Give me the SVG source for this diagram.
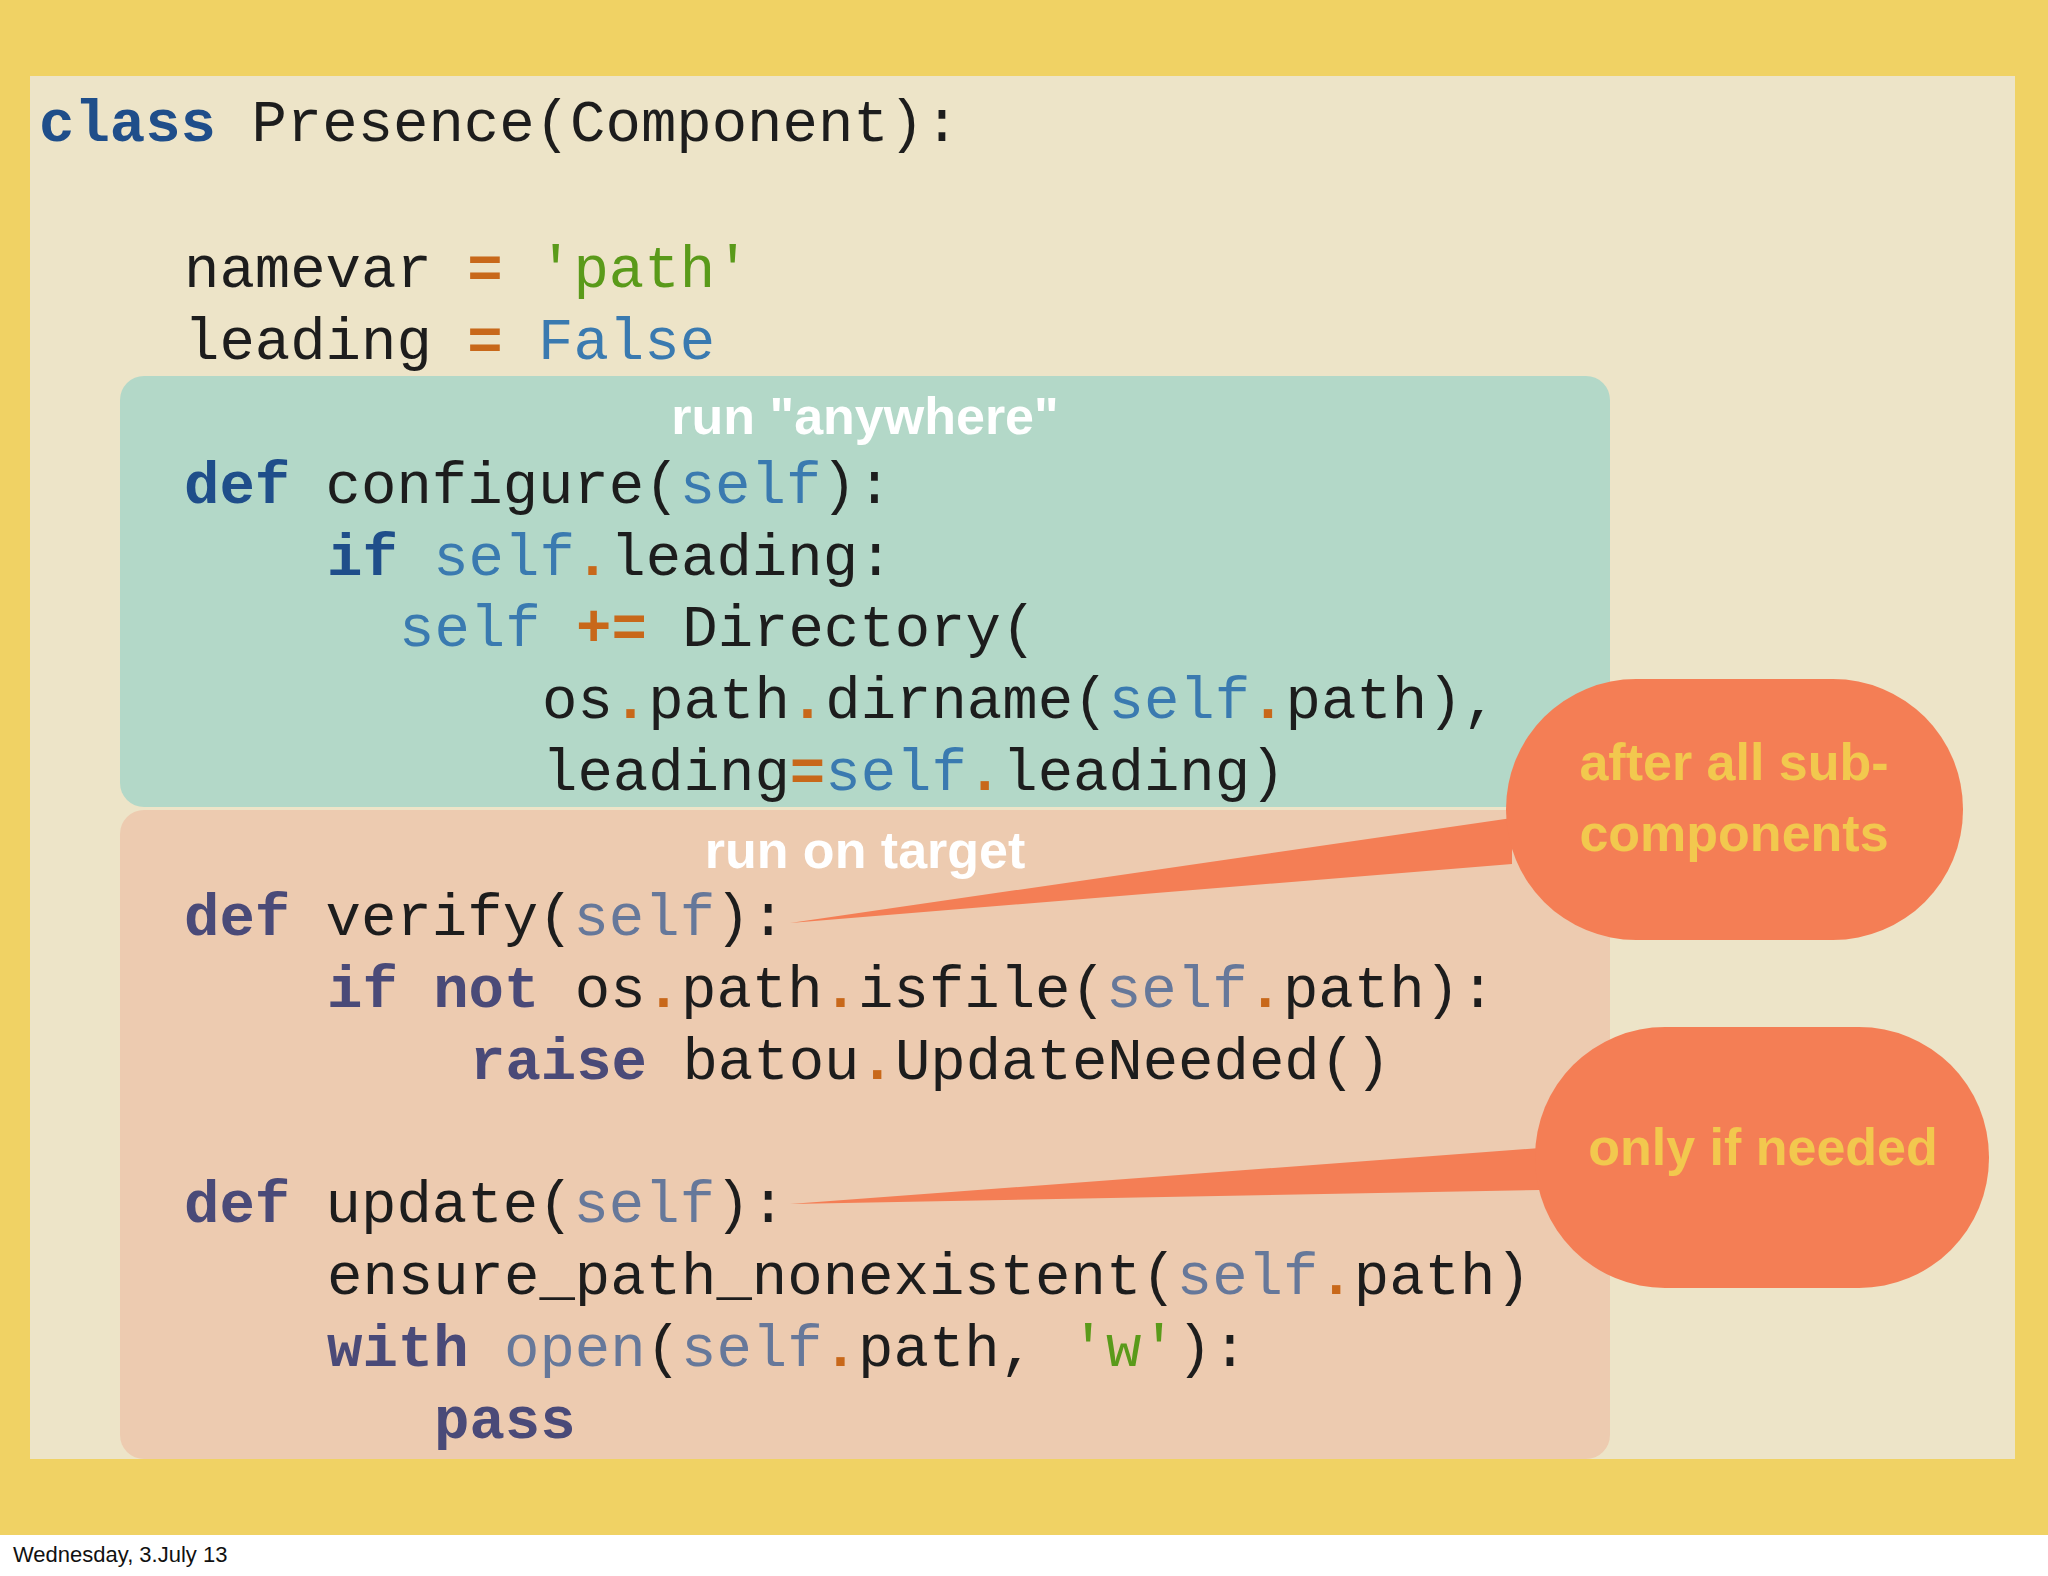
<svg xmlns="http://www.w3.org/2000/svg" width="2048" height="1576" viewBox="0 0 2048 1576">
<style>
.c{font-family:"Liberation Mono","DejaVu Sans Mono",monospace;font-size:59px;fill:#1d1d1d;white-space:pre}
.k{fill:#1f4e8a;font-weight:bold}
.kp{fill:#4a4a78;font-weight:bold}
.s{fill:#3a7ab0}
.sp{fill:#66789a}
.d{fill:#c8681a;font-weight:bold}
.g{fill:#5a9a1a}
.lb{font-family:"Liberation Sans",Arial,sans-serif;font-weight:bold;font-size:52px;fill:#fff;text-anchor:middle}
.co{font-family:"Liberation Sans",Arial,sans-serif;font-weight:bold;font-size:52px;fill:#f2c84e;text-anchor:middle}
</style>
<rect width="2048" height="1576" fill="#fff"/>
<rect width="2048" height="1535" fill="#f0d264"/>
<rect x="30" y="76" width="1985" height="1383" fill="#ede4c8"/>
<g id="region-anywhere"><rect x="120" y="376" width="1490" height="431" rx="24" fill="#b3d8c8"/>
<text class="lb" x="865" y="434">run "anywhere"</text></g>
<g id="region-target"><rect x="120" y="810" width="1490" height="649" rx="24" fill="#edcbb0"/>
<text class="lb" x="865" y="868">run on target</text></g>
<g id="code">
<text class="c" x="39" y="141"><tspan class="k">class</tspan> Presence(Component):</text>
<text class="c" x="184" y="287">namevar <tspan class="d">=</tspan> <tspan class="g">'path'</tspan></text>
<text class="c" x="184" y="359">leading <tspan class="d">=</tspan> <tspan class="s">False</tspan></text>
<text class="c" x="184" y="503"><tspan class="k">def</tspan> configure(<tspan class="s">self</tspan>):</text>
<text class="c" x="327" y="575"><tspan class="k">if</tspan> <tspan class="s">self</tspan><tspan class="d">.</tspan>leading:</text>
<text class="c" x="399" y="646"><tspan class="s">self</tspan> <tspan class="d">+=</tspan> Directory(</text>
<text class="c" x="542" y="718">os<tspan class="d">.</tspan>path<tspan class="d">.</tspan>dirname(<tspan class="s">self</tspan><tspan class="d">.</tspan>path),</text>
<text class="c" x="542" y="790">leading<tspan class="d">=</tspan><tspan class="s">self</tspan><tspan class="d">.</tspan>leading)</text>
<text class="c" x="184" y="935"><tspan class="kp">def</tspan> verify(<tspan class="sp">self</tspan>):</text>
<text class="c" x="327" y="1007"><tspan class="kp">if</tspan> <tspan class="kp">not</tspan> os<tspan class="d">.</tspan>path<tspan class="d">.</tspan>isfile(<tspan class="sp">self</tspan><tspan class="d">.</tspan>path):</text>
<text class="c" x="470" y="1079"><tspan class="kp">raise</tspan> batou<tspan class="d">.</tspan>UpdateNeeded()</text>
<text class="c" x="184" y="1222"><tspan class="kp">def</tspan> update(<tspan class="sp">self</tspan>):</text>
<text class="c" x="327" y="1294">ensure_path_nonexistent(<tspan class="sp">self</tspan><tspan class="d">.</tspan>path)</text>
<text class="c" x="327" y="1366"><tspan class="kp">with</tspan> <tspan class="sp">open</tspan>(<tspan class="sp">self</tspan><tspan class="d">.</tspan>path, <tspan class="g">'w'</tspan>):</text>
<text class="c" x="434" y="1438"><tspan class="kp">pass</tspan></text>
</g>
<g id="connectors">
<polygon points="1512,818 1512,864 790,923" fill="#f47e55"/>
<polygon points="1540,1148 1540,1190 790,1204" fill="#f47e55"/>
</g>
<g id="callout-after"><rect x="1506" y="679" width="457" height="261" rx="130" fill="#f47e55"/>
<text class="co" x="1734" y="780">after all sub-</text><text class="co" x="1734" y="851">components</text></g>
<g id="callout-needed"><rect x="1535" y="1027" width="454" height="261" rx="130" fill="#f47e55"/>
<text class="co" x="1763" y="1165">only if needed</text></g>
<text x="13" y="1562" font-family="Liberation Sans,Arial,sans-serif" font-size="22" fill="#111">Wednesday, 3.July 13</text>
</svg>
